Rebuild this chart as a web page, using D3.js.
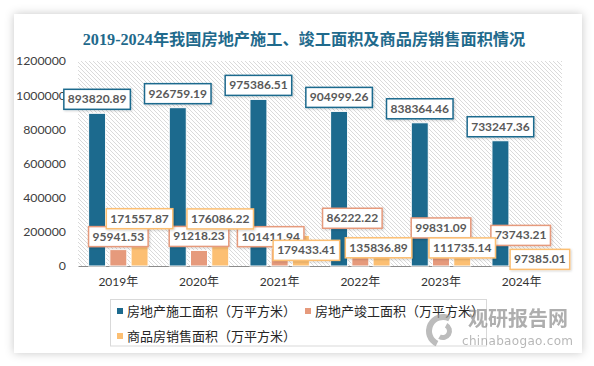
<!DOCTYPE html>
<html>
<head>
<meta charset="utf-8">
<script src="https://cdn.jsdelivr.net/npm/d3@7"></script>
<style>
  html, body { margin: 0; padding: 0; background: #ffffff; }
  svg { display: block; }
</style>
</head>
<body>
<svg id="chart" width="594" height="366"></svg>
<script>
// ---------- data ----------
const years = ["2019年", "2020年", "2021年", "2022年", "2023年", "2024年"];
const seriesNames = ["房地产施工面积（万平方米）", "房地产竣工面积（万平方米）", "商品房销售面积（万平方米）"];
const construction = [893820.89, 926759.19, 975386.51, 904999.26, 838364.46, 733247.36];
const completed = [95941.53, 91218.23, 101411.94, 86222.22, 99831.09, 73743.21];
const sales = [171557.87, 176086.22, 179433.41, 135836.89, 111735.14, 97385.01];
const yTicks = [0, 200000, 400000, 600000, 800000, 1000000, 1200000];
const title = "2019-2024年我国房地产施工、竣工面积及商品房销售面积情况";

// ---------- layout / style ----------
const colors = ["#1c6a8e", "#e69a7c", "#fcbf73"];
// label nudges (layout only) as [dx, dy] per category
const labelNudges = [
  [[0,0],[0,0],[0,0],[0,0],[0,0],[0,0]],
  [[0,1],[0,0],[-9,2],[-8,-19],[0,-7],[-1,-4]],
  [[0,-4],[0,-3],[5.5,29],[-3,19],[0,15],[-3,24]]
];

const svg = d3.select("#chart");
const defs = svg.append("defs");

const shadow = defs.append("filter").attr("id", "shadow")
  .attr("x", "-10%").attr("y", "-10%").attr("width", "120%").attr("height", "120%");
shadow.append("feDropShadow").attr("dx", 0).attr("dy", 0).attr("stdDeviation", 5)
  .attr("flood-color", "#000").attr("flood-opacity", 0.22);

const lblShadow = defs.append("filter").attr("id", "lblshadow")
  .attr("x", "-20%").attr("y", "-30%").attr("width", "140%").attr("height", "160%");
lblShadow.append("feDropShadow").attr("dx", 1).attr("dy", 1).attr("stdDeviation", 0.8)
  .attr("flood-color", "#000").attr("flood-opacity", 0.18);

const pat = defs.append("pattern").attr("id", "hatch")
  .attr("patternUnits", "userSpaceOnUse").attr("width", 4).attr("height", 4);
pat.append("rect").attr("width", 4).attr("height", 4).attr("fill", "#ffffff");
pat.append("path").attr("d", "M-1,-1 L5,5 M-1,3 L1,5 M3,-1 L5,1")
  .attr("stroke", "#d6d6d6").attr("stroke-width", 0.9);

// card
svg.append("rect").attr("x", 14).attr("y", 14).attr("width", 568).attr("height", 339)
  .attr("fill", "#ffffff").attr("filter", "url(#shadow)");

// title
svg.append("text").attr("x", 304).attr("y", 45).attr("text-anchor", "middle")
  .attr("font-family", "'Liberation Serif', 'Noto Sans CJK SC', serif")
  .attr("font-weight", "bold").attr("font-size", 16.2).attr("fill", "#1f6a8c")
  .text(title);

// plot
const plot = { left: 78, right: 562, top: 61, bottom: 266 };
svg.append("rect").attr("x", plot.left).attr("y", plot.top)
  .attr("width", plot.right - plot.left).attr("height", plot.bottom - plot.top)
  .attr("fill", "url(#hatch)");

const y = d3.scaleLinear().domain([0, 1200000]).range([plot.bottom, plot.top]);
const x0 = d3.scaleBand().domain(years).range([plot.left, plot.right]);
const x1 = d3.scaleBand().domain([0, 1, 2]).range([0, x0.bandwidth()])
  .paddingInner(0.2).paddingOuter(0.5);

// y axis
const yAxis = d3.axisLeft(y).tickValues(yTicks).tickSize(0).tickPadding(0)
  .tickFormat(d3.format("d"));
const yG = svg.append("g").attr("transform", `translate(66,0)`).call(yAxis);
yG.select(".domain").remove();
yG.selectAll("text").attr("font-family", "Lato, 'Liberation Sans', sans-serif")
  .attr("font-size", 12.3).attr("fill", "#404040");

// x axis
const xAxis = d3.axisBottom(x0).tickSize(0).tickPadding(11);
const xG = svg.append("g").attr("transform", `translate(0,${plot.bottom})`).call(xAxis);
xG.select(".domain").attr("stroke", "#8c8c8c").attr("stroke-width", 1.2);
xG.selectAll("text").attr("font-family", "Lato, 'Noto Sans CJK SC', sans-serif")
  .attr("font-size", 12).attr("fill", "#333");

// bars
const seriesData = [construction, completed, sales];
seriesData.forEach((vals, s) => {
  svg.append("g").selectAll("rect").data(vals).join("rect")
    .attr("x", (d, i) => x0(years[i]) + x1(s))
    .attr("y", d => y(d))
    .attr("width", x1.bandwidth())
    .attr("height", d => plot.bottom - y(d))
    .attr("fill", colors[s])
    .attr("stroke", "#ffffff").attr("stroke-width", 1);
});

// data labels
const fmt = d3.format(".2f");
seriesData.forEach((vals, s) => {
  const g = svg.append("g");
  vals.forEach((v, i) => {
    const [dx, dy] = labelNudges[s][i];
    const cx = x0(years[i]) + x1(s) + x1.bandwidth() / 2 + dx;
    const bottom = y(v) - 4 + dy;
    const lg = g.append("g");
    const rect = lg.append("rect");
    const t = lg.append("text").attr("x", cx).attr("y", bottom - 6)
      .attr("text-anchor", "middle")
      .attr("font-family", "Lato, 'Liberation Sans', sans-serif")
      .attr("font-weight", "bold").attr("font-size", 12).attr("fill", "#595959")
      .text(fmt(v));
    const w = t.node().getComputedTextLength() + 8;
    rect.attr("x", cx - w / 2).attr("y", bottom - 20).attr("width", w).attr("height", 20)
      .attr("fill", "#ffffff").attr("stroke", colors[s]).attr("stroke-width", 1.5)
      .attr("filter", "url(#lblshadow)");
  });
});

// legend
svg.append("rect").attr("x", 110.5).attr("y", 299.5).attr("width", 376).attr("height", 46.5)
  .attr("fill", "none").attr("stroke", "#d9d9d9").attr("stroke-width", 1);
const legendPos = [[117, 311], [305, 311], [117, 336]];
seriesNames.forEach((name, s) => {
  const [lx, ly] = legendPos[s];
  svg.append("rect").attr("x", lx).attr("y", ly - 3).attr("width", 6).attr("height", 6)
    .attr("fill", colors[s]);
  svg.append("text").attr("x", lx + 10).attr("y", ly + 4.5)
    .attr("font-family", "'Noto Sans CJK SC', sans-serif")
    .attr("font-size", 13).attr("fill", "#262626")
    .text(name);
});

// watermark
const wm = svg.append("g").attr("opacity", 0.7);
wm.append("path").attr("d", d3.arc()({ innerRadius: 11, outerRadius: 17, startAngle: -2.7, endAngle: 0.5 }))
  .attr("transform", "translate(443,331)").attr("fill", "#a0a0a0");
wm.append("path").attr("d", d3.arc()({ innerRadius: 4, outerRadius: 9, startAngle: 0.5, endAngle: 3.7 }))
  .attr("transform", "translate(443,331)").attr("fill", "#a0a0a0");
wm.append("text").attr("x", 468).attr("y", 326)
  .attr("font-family", "'Noto Sans CJK SC', sans-serif").attr("font-weight", "bold")
  .attr("font-size", 20).attr("fill", "#8c8c8c").text("观研报告网");
wm.append("text").attr("x", 462).attr("y", 345)
  .attr("font-family", "'DejaVu Sans', sans-serif")
  .attr("font-size", 12).attr("fill", "#999").attr("textLength", 111)
  .text("chinabaogao.com");
</script>
</body>
</html>
